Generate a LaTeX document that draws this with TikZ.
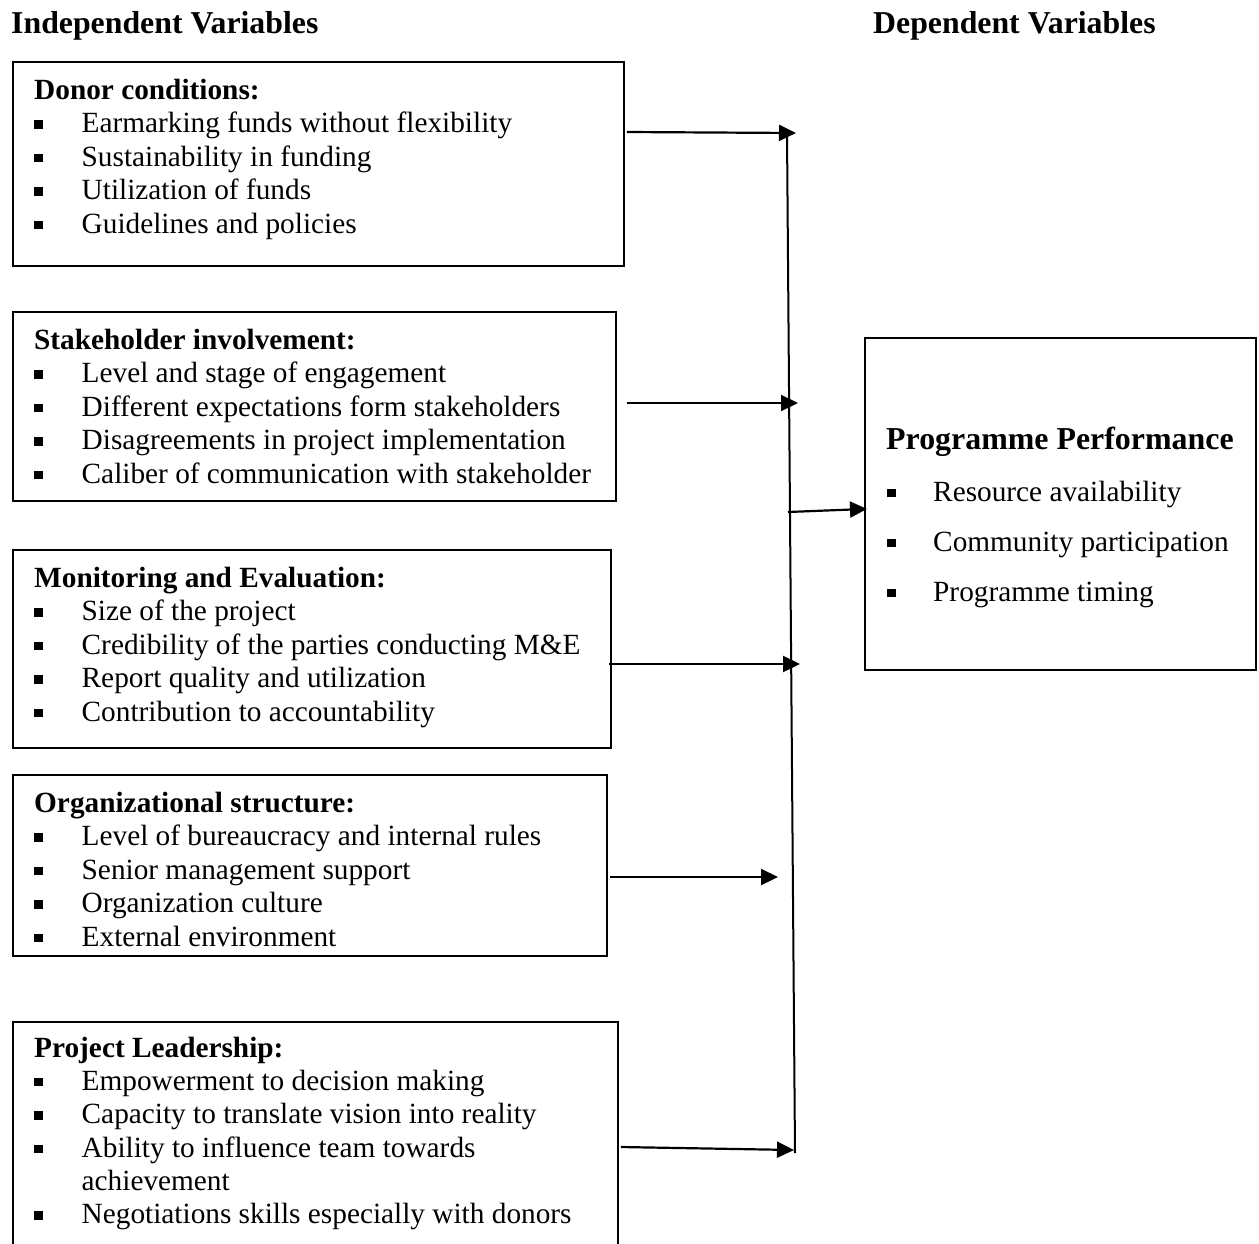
\documentclass[tikz,border=0pt]{standalone}
\usepackage{fontspec}
\setmainfont{Liberation Serif}
\usetikzlibrary{arrows.meta,calc}
\newcommand{\bsq}{\rule[4pt]{8.5pt}{8.5pt}}
\begin{document}
\begin{tikzpicture}[x=1pt,y=-1pt,
  box/.style={draw,line width=1.8pt,inner sep=0pt,anchor=north west},
  txt/.style={inner sep=0pt,anchor=base west,font=\fontsize{29.3}{34}\selectfont},
  hd/.style={inner sep=0pt,anchor=base west,font=\fontsize{29.3}{34}\selectfont\bfseries},
  toplabel/.style={inner sep=0pt,anchor=base west,font=\fontsize{31.8}{36}\selectfont\bfseries},
  arr/.style={line width=2.2pt,-{Triangle[length=17pt,width=16pt]}},
  vline/.style={line width=2pt}]
\useasboundingbox (0,0) rectangle (1259,1243);
\clip (0,0) rectangle (1259,1243);

% top labels
\node[toplabel] (indep) at (11,33) {Independent Variables};
\node[toplabel] (dep) at (873,33) {Dependent Variables};

% boxes
\node[box,minimum width=611pt,minimum height=204pt] (donor) at (12,61) {};
\node[box,minimum width=603pt,minimum height=189pt] (stake) at (12,311) {};
\node[box,minimum width=598pt,minimum height=198pt] (me) at (12,549) {};
\node[box,minimum width=594pt,minimum height=181pt] (org) at (12,774) {};
\node[box,minimum width=605pt,minimum height=250pt] (lead) at (12,1021) {};
\node[box,minimum width=391pt,minimum height=332pt] (pp) at (864,337) {};

% donor
\node[hd] (dh) at (34,99) {Donor conditions:};
\node[txt] (d1) at (34,132.5) {\bsq\hspace{39pt}Earmarking funds without flexibility};
\node[txt] (d2) at (34,166) {\bsq\hspace{39pt}Sustainability in funding};
\node[txt] (d3) at (34,199.5) {\bsq\hspace{39pt}Utilization of funds};
\node[txt] (d4) at (34,233) {\bsq\hspace{39pt}Guidelines and policies};

% stakeholder
\node[hd] (sh) at (34,349) {Stakeholder involvement:};
\node[txt] (s1) at (34,382.5) {\bsq\hspace{39pt}Level and stage of engagement};
\node[txt] (s2) at (34,416) {\bsq\hspace{39pt}Different expectations form stakeholders};
\node[txt] (s3) at (34,449.5) {\bsq\hspace{39pt}Disagreements in project implementation};
\node[txt] (s4) at (34,483) {\bsq\hspace{39pt}Caliber of communication with stakeholder};

% M&E
\node[hd] (mh) at (34,587) {Monitoring and Evaluation:};
\node[txt] (m1) at (34,620.5) {\bsq\hspace{39pt}Size of the project};
\node[txt] (m2) at (34,654) {\bsq\hspace{39pt}Credibility of the parties conducting M\&E};
\node[txt] (m3) at (34,687.5) {\bsq\hspace{39pt}Report quality and utilization};
\node[txt] (m4) at (34,721) {\bsq\hspace{39pt}Contribution to accountability};

% org
\node[hd] (oh) at (34,812) {Organizational structure:};
\node[txt] (o1) at (34,845.5) {\bsq\hspace{39pt}Level of bureaucracy and internal rules};
\node[txt] (o2) at (34,879) {\bsq\hspace{39pt}Senior management support};
\node[txt] (o3) at (34,912.5) {\bsq\hspace{39pt}Organization culture};
\node[txt] (o4) at (34,946) {\bsq\hspace{39pt}External environment};

% leadership
\node[hd] (lh) at (34,1057) {Project Leadership:};
\node[txt] (l1) at (34,1090) {\bsq\hspace{39pt}Empowerment to decision making};
\node[txt] (l2) at (34,1123.5) {\bsq\hspace{39pt}Capacity to translate vision into reality};
\node[txt] (l3) at (34,1157) {\bsq\hspace{39pt}Ability to influence team towards};
\node[txt] (l3b) at (81.5,1190) {achievement};
\node[txt] (l4) at (34,1223.5) {\bsq\hspace{39pt}Negotiations skills especially with donors};

% programme performance
\node[inner sep=0pt,anchor=base west,font=\fontsize{31.9}{36}\selectfont\bfseries] (ph) at (886,449) {Programme Performance};
\node[txt] (p1) at (887,501) {\bsq\hspace{37.5pt}Resource availability};
\node[txt] (p2) at (887,551) {\bsq\hspace{37.5pt}Community participation};
\node[txt] (p3) at (887,601) {\bsq\hspace{37.5pt}Programme timing};

% connectors
\coordinate (vtop) at (787,133);
\coordinate (vbot) at (795,1153);
\draw[vline] (vtop) -- (vbot);
\coordinate (t1) at (796,133);
\coordinate (t2) at (798,403);
\coordinate (t4) at (800,664);
\coordinate (t5) at (778,877);
\coordinate (t6) at (794,1150);
\coordinate (j) at (788,512);
\draw[arr] ($(donor.north east)+(2,71)$) -- (t1);
\draw[arr] ($(stake.north east)+(10,92)$) -- (t2);
\draw[arr] ($(me.north east)+(-3,115)$) -- (t4);
\draw[arr] ($(org.north east)+(2,103)$) -- (t5);
\draw[arr] ($(lead.north east)+(2,126)$) -- (t6);
\draw[arr] (j) -- ($(pp.west)+(3,5)$);
\end{tikzpicture}
\end{document}
